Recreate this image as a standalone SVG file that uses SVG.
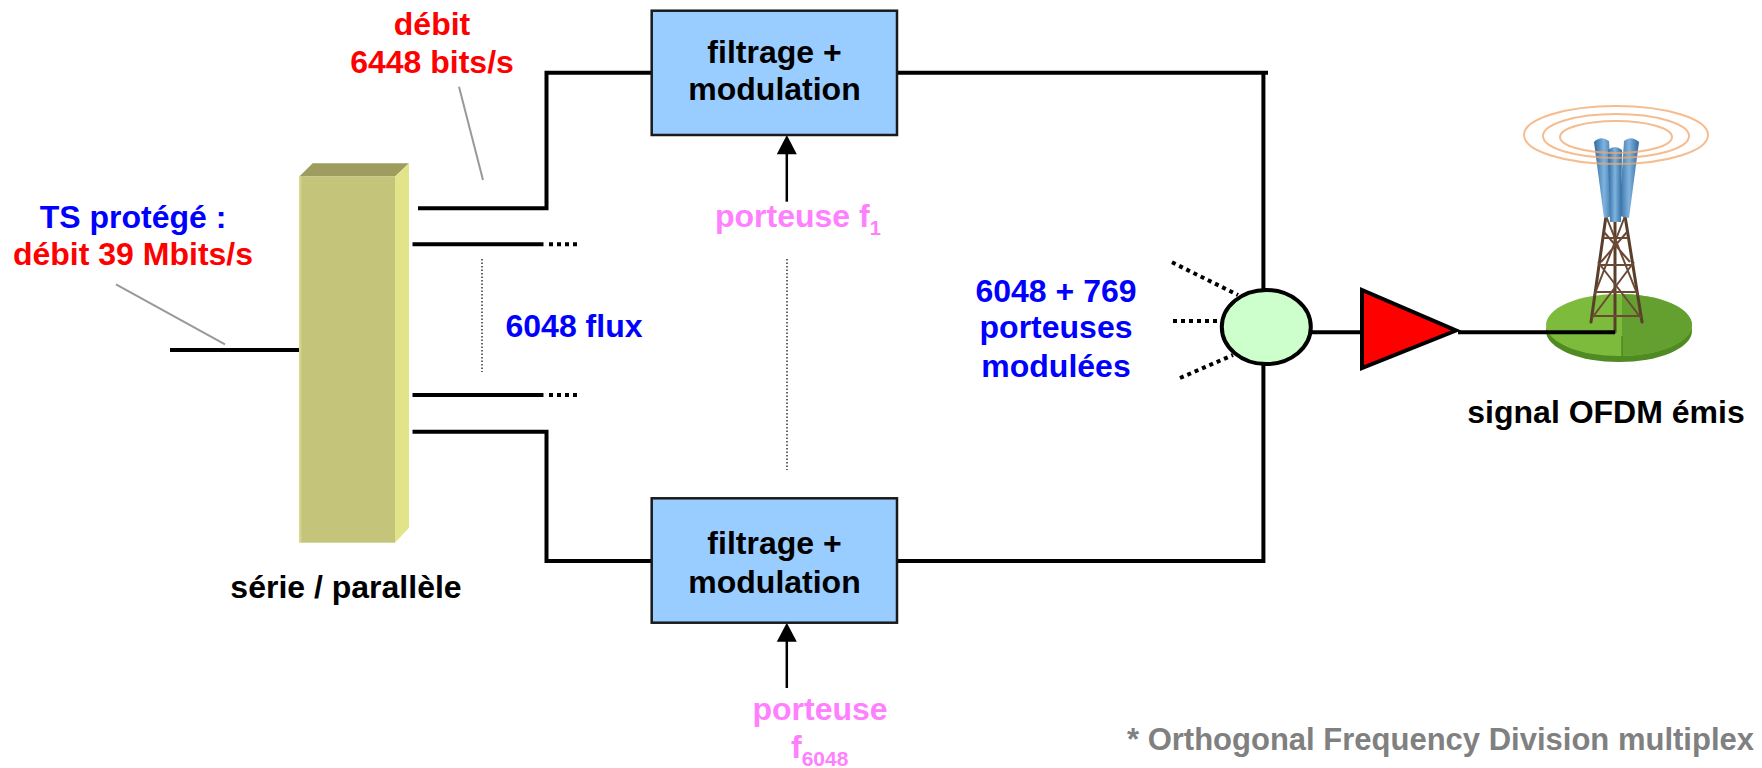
<svg xmlns="http://www.w3.org/2000/svg" width="1762" height="768" viewBox="0 0 1762 768">
<style>
text{font-family:"Liberation Sans",Arial,Helvetica,sans-serif;font-weight:bold;font-size:32px}
.c{text-anchor:middle}
.red{fill:#FF0000}
.blue{fill:#0000FF}
.pink{fill:#FF80FF}
.blk{fill:#000}
.grey{fill:#808080}
.wire{fill:none;stroke:#000;stroke-width:4}
.dots{fill:none;stroke:#000;stroke-width:4;stroke-dasharray:4 4}
.fine{fill:none;stroke:#333;stroke-width:1.5;stroke-dasharray:1.5 2}
.lead{fill:none;stroke:#999;stroke-width:2}
.box{fill:#99CCFF;stroke:#1a1a1a;stroke-width:2.5}
</style>
<defs>
<linearGradient id="ant" x1="0" x2="1" y1="0" y2="0">
<stop offset="0" stop-color="#2f6aa0"/>
<stop offset="0.5" stop-color="#80b4df"/>
<stop offset="1" stop-color="#2f6aa0"/>
</linearGradient>
</defs>
<rect width="1762" height="768" fill="#fff"/>

<g id="tower">
<ellipse cx="1619" cy="331" rx="73" ry="31" fill="#4F8A22"/>
<ellipse cx="1619" cy="325" rx="73" ry="31" fill="#7DBB3C"/>
<path d="M1622 294 A73 31 0 0 1 1692 325 A73 31 0 0 1 1622 356 Z" fill="#64A030"/>
<path d="M1622 336 V361" stroke="#4f8a22" stroke-width="1.5"/>
<g stroke="#5a3e2c" stroke-width="3" fill="none" stroke-linecap="round">
<path d="M1606 216 L1591 322 M1625 216 L1642 322 M1615 216 V332"/>
</g>
<g stroke="#6b4a35" stroke-width="2" fill="none">
<path d="M1606 216 L1638 296 M1625 216 L1594 296 M1598 262 L1641 318 M1634 262 L1592 318 M1604 232 L1630 262 M1627 232 L1601 262"/>
<path d="M1603 238 H1628 M1599 265 H1633 M1596 292 H1638 M1593 316 H1641"/>
</g>
<g fill="url(#ant)">
<path d="M1594 142 Q1601 135 1609 141 L1614 216 L1604 218 Z"/>
<path d="M1624 141 Q1631 135 1639 142 L1629 218 L1619 216 Z"/>
<path d="M1608 150 Q1615 144 1622 150 L1621 222 L1610 222 Z"/>
</g>
<g fill="none" stroke="#F2A66A" stroke-width="2" opacity="0.75">
<ellipse cx="1616" cy="135" rx="92" ry="29"/>
<ellipse cx="1616" cy="136" rx="73" ry="22"/>
<ellipse cx="1616" cy="137" rx="56" ry="16"/>
</g>
<text class="c blk" x="1606" y="422.7">signal OFDM émis</text>
</g>

<g id="connectors">
<path class="wire" d="M170 350 H299"/>
<path class="wire" d="M418 208.3 H546.5 V72.7 H651.7"/>
<path class="wire" d="M412.5 244.3 H543.5"/>
<path class="dots" d="M549 244.3 H577"/>
<path class="wire" d="M412.5 395 H543.5"/>
<path class="dots" d="M549 395 H577"/>
<path class="wire" d="M412.5 431.7 H546.5 V561 H651.7"/>
<path class="fine" d="M482 259 V372"/>
<path class="fine" d="M787 259 V470"/>
<path class="wire" d="M897 72.7 H1268 M1263.4 72.7 V290"/>
<path class="wire" d="M897 561 H1263.4 V364"/>
<path class="dots" d="M1172 262.3 L1238 295"/>
<path class="dots" d="M1173 321 H1219"/>
<path class="dots" d="M1180 378 L1233 355"/>
<path class="wire" d="M1311 332.3 H1362"/>
<path class="wire" d="M1458 332.3 H1615"/>
<path class="wire" d="M786.8 201.7 V152" style="stroke-width:2.5"/>
<polygon points="776.8,154.3 796.8,154.3 786.8,135" fill="#000"/>
<path class="wire" d="M786.8 688 V640" style="stroke-width:2.5"/>
<polygon points="776.8,641.7 796.8,641.7 786.8,622.7" fill="#000"/>
<path class="lead" d="M116 284.3 L225 344.3"/>
<path class="lead" d="M459 86.7 L483 180"/>
</g>

<g id="sp">
<polygon points="299.3,176.5 312.7,163.3 409,163.3 395,176.5" fill="#9E9C5E"/>
<polygon points="395,176.5 409,163.3 409,527.7 395,542.7" fill="#E3E389"/>
<rect x="299.3" y="176.5" width="95.7" height="366.2" fill="#C4C57A"/>
<path d="M300.3 177 V542" stroke="#D6D78C" stroke-width="2"/>
<text class="c blk" x="346" y="598">série / parallèle</text>
</g>

<g id="box1">
<rect class="box" x="651.7" y="10.7" width="245.3" height="124.3"/>
<text class="c blk" x="774.5" y="62.7">filtrage +</text>
<text class="c blk" x="774.5" y="100">modulation</text>
</g>

<g id="box2">
<rect class="box" x="651.7" y="498.3" width="245.3" height="124.4"/>
<text class="c blk" x="774.5" y="554">filtrage +</text>
<text class="c blk" x="774.5" y="593">modulation</text>
</g>

<g id="sum">
<ellipse cx="1266.3" cy="327" rx="44.5" ry="37" fill="#CCFFCC" stroke="#000" stroke-width="4"/>
</g>

<g id="amp">
<polygon points="1362,290 1362,368 1456,330.5" fill="#FF0000" stroke="#000" stroke-width="4" stroke-linejoin="miter"/>
</g>

<g id="labels">
<text class="c red" x="432" y="35">débit</text>
<text class="c red" x="432" y="72.7">6448 bits/s</text>
<text class="c blue" x="133" y="228">TS protégé :</text>
<text class="c red" x="133" y="265">débit 39 Mbits/s</text>
<text class="c blue" x="574" y="336.7">6048 flux</text>
<text class="pink" x="715" y="226.7">porteuse f<tspan font-size="20" dy="8">1</tspan></text>
<text class="c pink" x="820" y="720">porteuse</text>
<text class="pink" x="791" y="758">f<tspan font-size="21" dy="8">6048</tspan></text>
<text class="c blue" x="1056" y="301.7">6048 + 769</text>
<text class="c blue" x="1056" y="338.3">porteuses</text>
<text class="c blue" x="1056" y="376.7">modulées</text>
<text class="grey" x="1127" y="750" style="font-size:31px">* Orthogonal Frequency Division multiplex</text>
</g>
</svg>
